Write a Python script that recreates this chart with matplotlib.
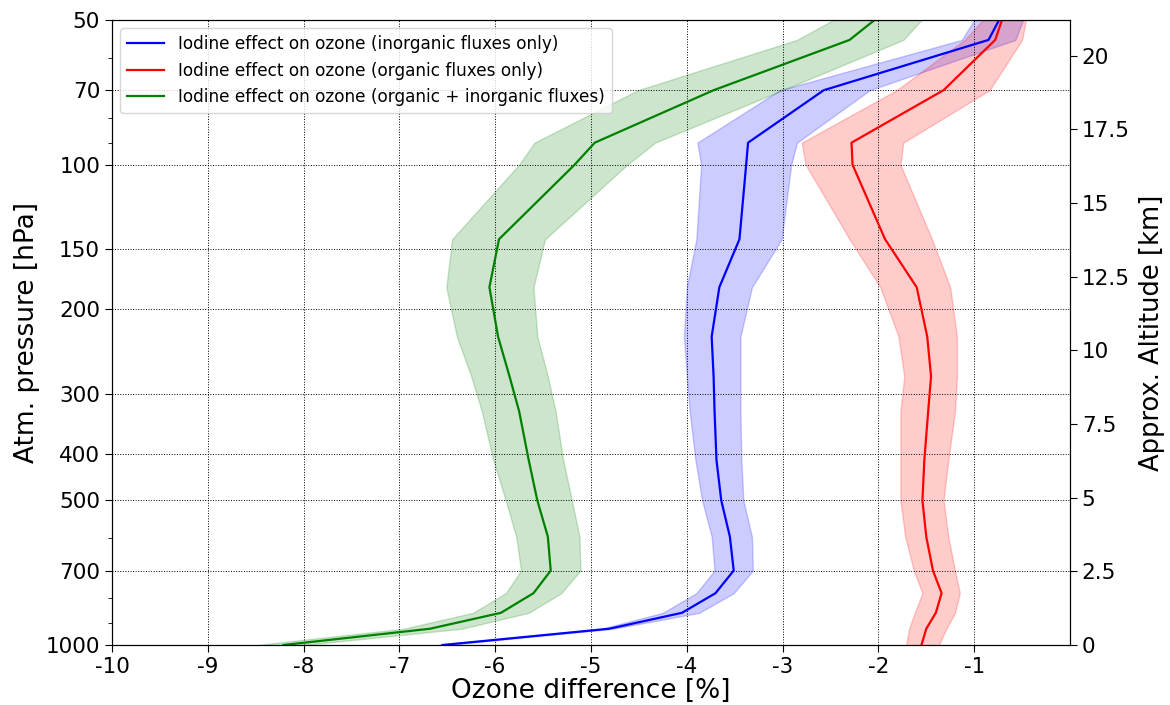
import numpy as np
import matplotlib.pyplot as plt
from matplotlib.ticker import FixedLocator, NullFormatter

plt.rcParams['axes.unicode_minus'] = False

# pressure levels [hPa]
lev = [1000, 925, 857, 780, 700, 595, 500, 412, 326, 276, 228, 180, 143, 100, 90, 70, 55, 50]

# inorganic fluxes only (blue)
inorg = [-6.55, -4.81, -4.05, -3.70, -3.51, -3.55, -3.64, -3.69, -3.71, -3.72, -3.74, -3.66, -3.45, -3.38, -3.36, -2.57, -0.85, -0.74]
inorg_lo = [-6.60, -4.89, -4.25, -3.90, -3.71, -3.74, -3.84, -3.91, -3.97, -4.00, -4.03, -4.00, -3.90, -3.85, -3.89, -3.03, -1.13, -1.00]
inorg_hi = [-6.50, -4.77, -3.87, -3.51, -3.31, -3.32, -3.41, -3.43, -3.44, -3.44, -3.44, -3.32, -3.01, -2.91, -2.85, -2.09, -0.57, -0.49]

# organic fluxes only (red)
org = [-1.55, -1.50, -1.40, -1.34, -1.43, -1.50, -1.54, -1.52, -1.48, -1.45, -1.49, -1.60, -1.93, -2.27, -2.28, -1.32, -0.78, -0.71]
org_lo = [-1.71, -1.68, -1.62, -1.54, -1.63, -1.72, -1.77, -1.77, -1.77, -1.73, -1.79, -1.98, -2.30, -2.76, -2.80, -1.81, -1.10, -0.91]
org_hi = [-1.37, -1.29, -1.20, -1.15, -1.20, -1.27, -1.32, -1.27, -1.20, -1.18, -1.18, -1.25, -1.44, -1.77, -1.74, -0.84, -0.50, -0.46]

# organic + inorganic (green)
both = [-8.21, -6.68, -5.94, -5.60, -5.42, -5.45, -5.56, -5.65, -5.75, -5.85, -5.97, -6.06, -5.96, -5.17, -4.96, -3.72, -2.30, -2.04]
both_lo = [-8.49, -6.96, -6.23, -5.89, -5.73, -5.78, -5.89, -6.02, -6.14, -6.25, -6.40, -6.51, -6.45, -5.75, -5.59, -4.51, -2.85, -2.47]
both_hi = [-8.00, -6.35, -5.65, -5.31, -5.11, -5.12, -5.20, -5.29, -5.37, -5.45, -5.56, -5.60, -5.48, -4.62, -4.33, -3.00, -1.74, -1.55]

p_ticks = [50, 70, 100, 150, 200, 300, 400, 500, 700, 1000]
p_minor = [60, 80, 90, 600, 800, 900]
H = 7.08  # scale height used for the approx. altitude axis [km]

fig = plt.figure(figsize=(11.7, 7.05), dpi=100)
ax = fig.add_axes([0.0957, 0.0851, 0.8188, 0.8865])

ax.fill_betweenx(lev, inorg_lo, inorg_hi, color='blue', alpha=0.2, lw=1)
ax.fill_betweenx(lev, org_lo, org_hi, color='red', alpha=0.2, lw=1)
ax.fill_betweenx(lev, both_lo, both_hi, color='green', alpha=0.2, lw=1)
ax.plot(inorg, lev, color='blue', lw=1.6, label='Iodine effect on ozone (inorganic fluxes only)')
ax.plot(org, lev, color='red', lw=1.6, label='Iodine effect on ozone (organic fluxes only)')
ax.plot(both, lev, color='green', lw=1.6, label='Iodine effect on ozone (organic + inorganic fluxes)')

ax.set_yscale('log')
ax.set_ylim(1000, 50)
ax.set_xlim(-10, 0)
ax.yaxis.set_major_locator(FixedLocator(p_ticks))
ax.yaxis.set_minor_locator(FixedLocator(p_minor))
ax.yaxis.set_major_formatter(plt.FixedFormatter([str(p) for p in p_ticks]))
ax.yaxis.set_minor_formatter(NullFormatter())
ax.set_xticks(range(-10, 0))
ax.tick_params(labelsize=15.5, direction='out', length=5)
ax.tick_params(which='minor', length=3)
ax.grid(True, color='black', linestyle=':', linewidth=0.7)
ax.set_xlabel('Ozone difference [%]', fontsize=19, labelpad=1)
ax.set_ylabel('Atm. pressure [hPa]', fontsize=19)

leg = ax.legend(loc='upper left', fontsize=12.2, handlelength=2.2, borderaxespad=0.5)

ax2 = ax.twinx()
ax2.set_ylim(0, H * np.log(1000 / 50))
ax2.set_yticks(np.arange(0, 21, 2.5))
ax2.set_yticklabels(['0', '2.5', '5', '7.5', '10', '12.5', '15', '17.5', '20'])
ax2.tick_params(labelsize=15.5, direction='out', length=5)
ax2.set_ylabel('Approx. Altitude [km]', fontsize=18.5, labelpad=7)

fig.savefig('out.png', dpi=100)
